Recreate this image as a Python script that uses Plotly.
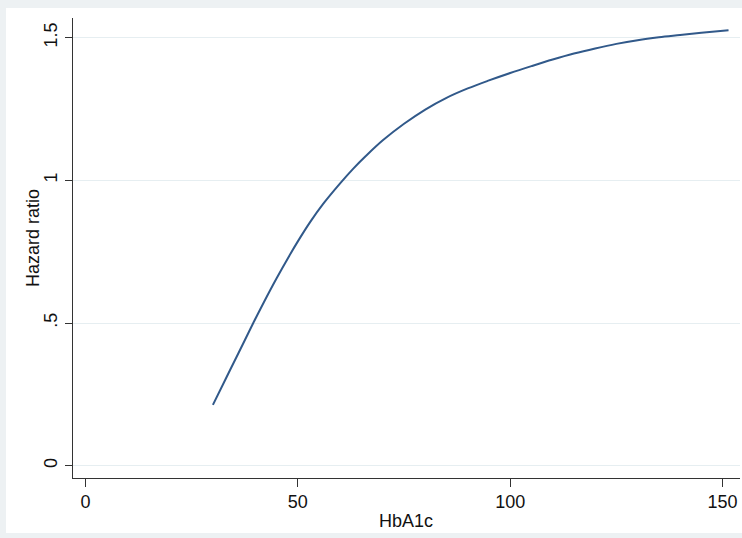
import plotly.graph_objects as go

# Data
hba1c = [30, 33, 36, 39.5, 42, 45, 48, 50, 53, 56, 60, 63, 66, 70, 75, 80, 85, 90,
         95, 100, 105, 110, 115, 120, 125, 130, 135, 140, 145, 151.4]
hazard_ratio = [0.213, 0.304, 0.394, 0.50, 0.573, 0.657, 0.736, 0.786, 0.856, 0.918, 0.99,
                1.04, 1.085, 1.14, 1.198, 1.248, 1.289, 1.322, 1.35, 1.376, 1.40, 1.423,
                1.444, 1.462, 1.478, 1.491, 1.501, 1.509, 1.517, 1.526]

x_ticks = [0, 50, 100, 150]
y_ticks = [0, 0.5, 1, 1.5]
y_tick_labels = ["0", ".5", "1", "1.5"]

W, H = 742, 538
ml, mr, mt, mb = 73, 2, 18, 60
pw, ph = W - ml - mr, H - mt - mb

def px_to_paper_x(px):
    return (px - ml) / pw

def px_to_paper_y(py):
    return (H - mb - py) / ph

fig = go.Figure()
fig.add_trace(go.Scatter(
    x=hba1c, y=hazard_ratio, mode="lines",
    line=dict(color="#31598a", width=2, shape="spline", smoothing=1),
    showlegend=False, hoverinfo="skip",
))

font_main = dict(family="Liberation Sans, Arial, sans-serif", size=18, color="#111111")

fig.update_layout(
    width=W, height=H,
    margin=dict(l=ml, r=mr, t=mt, b=mb),
    paper_bgcolor="#edf1f3",
    plot_bgcolor="white",
    font=font_main,
    hovermode=False,
    shapes=[dict(
        type="rect", xref="paper", yref="paper", layer="below",
        x0=px_to_paper_x(6), x1=px_to_paper_x(745),
        y0=px_to_paper_y(533), y1=px_to_paper_y(8),
        fillcolor="white", line=dict(width=0),
    )],
    annotations=[
        dict(text="HbA1c", xref="paper", yref="paper",
             x=px_to_paper_x(406), y=px_to_paper_y(521),
             showarrow=False, xanchor="center", yanchor="middle", font=font_main),
        dict(text="Hazard ratio", xref="paper", yref="paper",
             x=px_to_paper_x(33), y=px_to_paper_y(238), textangle=-90,
             showarrow=False, xanchor="center", yanchor="middle", font=font_main),
    ],
)

fig.update_xaxes(
    range=[-2.94, 154.1], tickvals=x_ticks, ticktext=[str(v) for v in x_ticks],
    showgrid=False, zeroline=False,
    showline=True, linecolor="#333333", linewidth=1,
    ticks="outside", ticklen=8, tickwidth=1, tickcolor="#333333",
    ticklabelstandoff=-1,
)
fig.update_yaxes(
    range=[-0.0431, 1.5687], tickvals=y_ticks, ticktext=y_tick_labels,
    tickangle=-90,
    showgrid=True, gridcolor="#e6eef1", gridwidth=1, zeroline=False,
    showline=True, linecolor="#333333", linewidth=1,
    ticks="outside", ticklen=7, tickwidth=1, tickcolor="#333333",
    ticklabelstandoff=1,
)

fig.write_html(
    "out.html",
    config={"displayModeBar": False, "staticPlot": True},
    post_script="document.body.style.margin='0';document.body.style.padding='0';"
                "document.body.style.background='#edf1f3';",
)
